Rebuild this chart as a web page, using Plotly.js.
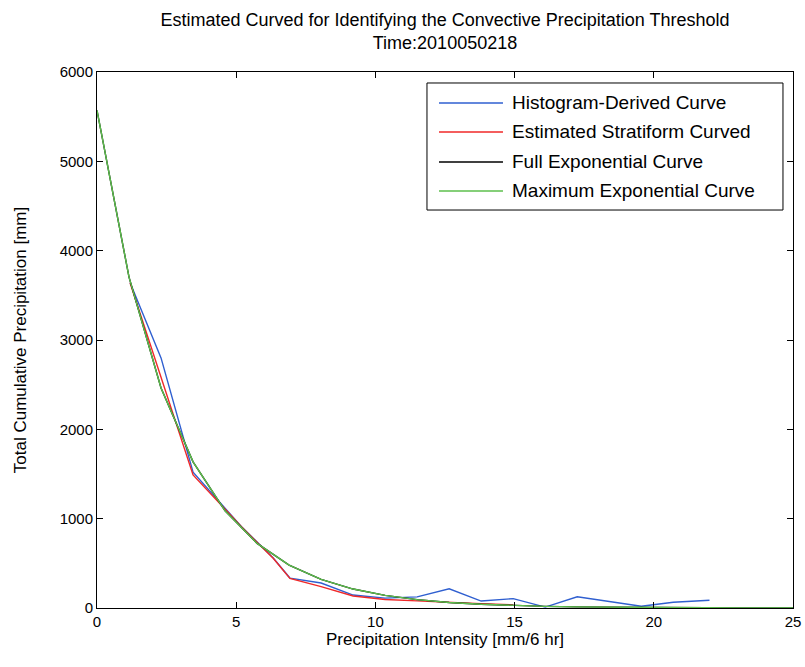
<!DOCTYPE html>
<html>
<head>
<meta charset="utf-8">
<script src="https://cdn.plot.ly/plotly-3.0.1.min.js"></script>
<style>html,body{margin:0;padding:0;background:#fff;}#chart{width:805px;height:667px;}</style>
</head>
<body>
<div id="chart"></div>
<script>
// ---- data ----
var histX = [1.19, 2.3, 3.45, 5.19, 6.33, 6.93, 8.05, 9.2, 10.35, 11.5, 12.65, 13.8, 14.95, 16.1, 17.25, 18.4, 19.55, 20.7, 22.0];
var histY = [3640, 2800, 1520, 910, 560, 335, 280, 145, 110, 125, 215, 78, 105, 10, 125, 72, 20, 65, 86];

var stratX = [1.19, 3.45, 5.19, 6.33, 6.93, 8.05, 9.2, 10.35, 11.5, 12.65, 13.8, 14.95];
var stratY = [3637, 1490, 910, 556, 332, 240, 135, 95, 80, 68, 48, 35];

var fullX = [0, 1.15, 2.3, 3.45, 4.6, 5.75, 6.9, 8.05, 9.2, 10.35, 11.5, 12.65, 13.8, 14.95, 16.1, 17.25, 18.4, 19.55, 20.7, 21.85, 23.0, 24.15, 25];
var fullY = [5570, 3704, 2462, 1636, 1088, 723, 481, 320, 212, 141, 94, 62, 41.5, 27.6, 18.4, 12.2, 8.1, 5.4, 3.6, 2.4, 1.6, 1.1, 0.8];

var maxX = [0, 1.15, 2.3, 3.45, 4.6, 5.75, 6.9, 8.05, 9.2, 10.35, 11.5, 12.65, 13.8, 14.95, 16.1, 17.25, 18.4, 19.55, 20.7, 21.85, 23.0, 24.15, 25];
var maxY = [5570, 3704, 2462, 1636, 1088, 723, 481, 320, 212, 141, 94, 62, 41.5, 27.6, 18.4, 12.2, 8.1, 5.4, 3.6, 2.4, 1.6, 1.1, 0.8];

var seriesNames = ["Histogram-Derived Curve", "Estimated Stratiform Curved", "Full Exponential Curve", "Maximum Exponential Curve"];
var seriesColors = ["#2f5fd0", "#f02828", "#000000", "#5cbf4c"];

var xTicks = [0, 5, 10, 15, 20, 25];
var yTicks = [0, 1000, 2000, 3000, 4000, 5000, 6000];

var titleLines = ["Estimated Curved for Identifying the Convective Precipitation Threshold", "Time:2010050218"];
var xTitle = "Precipitation Intensity [mm/6 hr]";
var yTitle = "Total Cumulative Precipitation [mm]";

// ---- traces ----
var xs = [histX, stratX, fullX, maxX];
var ys = [histY, stratY, fullY, maxY];
var traces = [];
for (var i = 0; i < 4; i++) {
  traces.push({
    x: xs[i], y: ys[i], type: "scatter", mode: "lines",
    name: seriesNames[i],
    line: {color: seriesColors[i], width: 1.4},
    showlegend: false, hoverinfo: "skip"
  });
}

// ---- custom MATLAB-like legend ----
var FONT = "Liberation Sans, Arial, Helvetica, sans-serif";
var legBox = {x0: 0.4741, x1: 0.9856, y0: 0.7425, y1: 0.9795};
var legRows = [0.9422, 0.8881, 0.8321, 0.7780];
var shapes = [{
  type: "rect", xref: "paper", yref: "paper",
  x0: legBox.x0, x1: legBox.x1, y0: legBox.y0, y1: legBox.y1,
  line: {color: "#000", width: 1}, fillcolor: "#fff", layer: "above"
}];
var annotations = [];
for (var j = 0; j < 4; j++) {
  shapes.push({
    type: "line", xref: "paper", yref: "paper",
    x0: 0.4914, x1: 0.5833, y0: legRows[j], y1: legRows[j],
    line: {color: seriesColors[j], width: 1.4}, layer: "above"
  });
  annotations.push({
    xref: "paper", yref: "paper", x: 0.5934, y: legRows[j],
    xanchor: "left", yanchor: "middle", showarrow: false,
    text: seriesNames[j], font: {family: FONT, size: 19, color: "#000"}
  });
}

var axisCommon = {
  showline: true, linecolor: "#000", linewidth: 1, mirror: "ticks",
  ticks: "inside", ticklen: 6, tickwidth: 1, tickcolor: "#000",
  showgrid: false, zeroline: false, tickfont: {family: FONT, size: 15, color: "#000"},
  automargin: false
};

var layout = {
  width: 805, height: 667,
  margin: {l: 97, r: 12, t: 72, b: 59, pad: 0},
  paper_bgcolor: "#fff", plot_bgcolor: "#fff",
  showlegend: false,
  title: {
    text: titleLines.join("<br>"),
    font: {family: FONT, size: 18, color: "#000"},
    xref: "paper", x: 0.5, xanchor: "center",
    yref: "container", y: 0.9615, yanchor: "top"
  },
  xaxis: Object.assign({}, axisCommon, {
    range: [0, 25], tickvals: xTicks, ticktext: xTicks.map(String),
    title: {text: xTitle, font: {family: FONT, size: 17, color: "#000"}, standoff: 0}
  }),
  yaxis: Object.assign({}, axisCommon, {
    range: [0, 6000], tickvals: yTicks, ticktext: yTicks.map(String),
    title: {text: yTitle, font: {family: FONT, size: 17, color: "#000"}, standoff: 28}
  }),
  shapes: shapes,
  annotations: annotations
};

Plotly.newPlot("chart", traces, layout, {staticPlot: true, displayModeBar: false});
</script>
</body>
</html>
